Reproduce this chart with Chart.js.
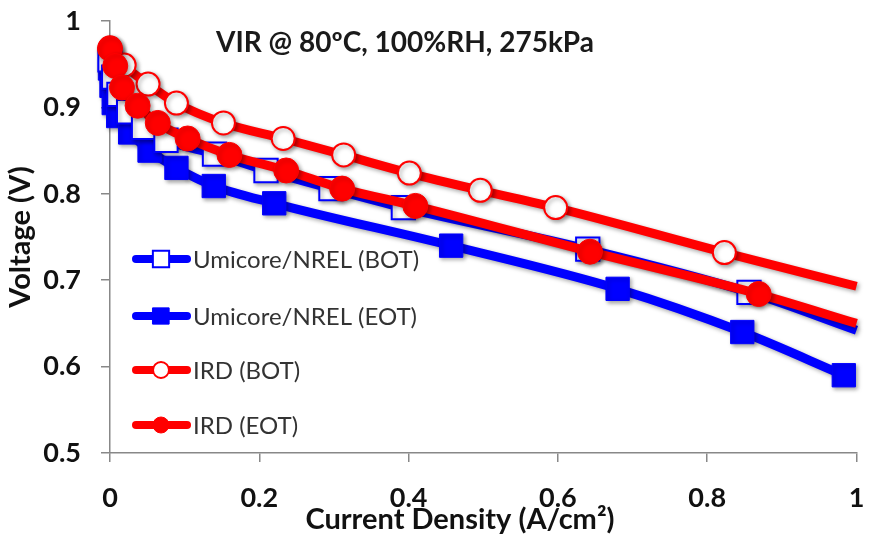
<!DOCTYPE html>
<html>
<head>
<meta charset="utf-8">
<script src="https://cdn.jsdelivr.net/npm/chart.js@4.4.1/dist/chart.umd.min.js"></script>
<style>
  html, body { margin: 0; padding: 0; background: #fff; }
  #wrap { width: 875px; height: 541px; }
</style>
</head>
<body>
<div id="wrap"><canvas id="vir"></canvas></div>
<script>
// data (x = current density A/cm2, y = voltage V)
const seriesNames = ["Umicore/NREL (BOT)", "Umicore/NREL (EOT)", "IRD (BOT)", "IRD (EOT)"];
const umicoreBotX = [0, 0.005, 0.012, 0.025, 0.045, 0.075, 0.14, 0.209, 0.296, 0.393, 0.64, 0.856, 1];
const umicoreBotY = [0.955, 0.935, 0.915, 0.895, 0.877, 0.862, 0.846, 0.827, 0.806, 0.784, 0.736, 0.686, 0.642];
const umicoreEotX = [0, 0.002, 0.005, 0.011, 0.027, 0.053, 0.089, 0.139, 0.22, 0.457, 0.68, 0.847, 0.983];
const umicoreEotY = [0.945, 0.925, 0.905, 0.89, 0.871, 0.85, 0.83, 0.809, 0.789, 0.74, 0.69, 0.64, 0.59];
const irdBotX = [0, 0.019, 0.051, 0.089, 0.152, 0.232, 0.313, 0.401, 0.496, 0.597, 0.823, 1];
const irdBotY = [0.969, 0.949, 0.927, 0.905, 0.882, 0.864, 0.845, 0.824, 0.804, 0.784, 0.732, 0.693];
const irdEotX = [0, 0.007, 0.016, 0.037, 0.064, 0.104, 0.16, 0.236, 0.311, 0.409, 0.643, 0.869, 1];
const irdEotY = [0.968, 0.948, 0.923, 0.902, 0.882, 0.864, 0.845, 0.827, 0.806, 0.786, 0.733, 0.684, 0.65];
const xTicks = [0, 0.2, 0.4, 0.6, 0.8, 1];
const yTicks = [0.5, 0.6, 0.7, 0.8, 0.9, 1];
const chartTitle = "VIR @ 80ºC, 100%RH, 275kPa";
const xTitle = "Current Density (A/cm²)";

const BLUE = "#0000ff";
const RED = "#ff0000";
const FONT = "Lato, 'Open Sans', sans-serif";

function pts(xs, ys) {
  return xs.map((x, i) => ({ x: x, y: ys[i] }));
}

// no marker on the curve end that runs out to x = 1
function markerSize(r) {
  return (c) => (c.raw && c.raw.x >= 1 ? 0 : r);
}

const styles = [
  { color: BLUE, pointStyle: "rect", radius: 16.5, fill: "#fff", bw: 2, legendR: 11.5, order: 2 },
  { color: BLUE, pointStyle: "rect", radius: 16.5, fill: BLUE, bw: 1, legendR: 11.5, order: 3 },
  { color: RED, pointStyle: "circle", radius: 11.5, fill: "#fff", bw: 2, legendR: 8, order: 1 },
  { color: RED, pointStyle: "circle", radius: 12.5, fill: RED, bw: 1, legendR: 8, order: 0 },
];

const allData = [
  pts(umicoreBotX, umicoreBotY),
  pts(umicoreEotX, umicoreEotY),
  pts(irdBotX, irdBotY),
  pts(irdEotX, irdEotY),
];

const datasets = allData.map((d, i) => ({
  label: seriesNames[i],
  data: d,
  order: styles[i].order,
  borderColor: styles[i].color,
  backgroundColor: styles[i].fill,
  borderWidth: 9,
  cubicInterpolationMode: "monotone",
  pointStyle: styles[i].pointStyle,
  pointRadius: markerSize(styles[i].radius),
  pointBorderWidth: styles[i].bw,
  pointBorderColor: styles[i].color,
  pointBackgroundColor: styles[i].fill,
  pointHoverRadius: markerSize(styles[i].radius),
  clip: false,
}));

// soft drop shadow like the office chart
const shadowPlugin = {
  id: "shadow",
  beforeDatasetsDraw(chart) {
    const ctx = chart.ctx;
    ctx.save();
    ctx.shadowColor = "rgba(0,0,0,0.35)";
    ctx.shadowBlur = 4;
    ctx.shadowOffsetX = 2;
    ctx.shadowOffsetY = 2;
  },
  afterDatasetsDraw(chart) {
    chart.ctx.restore();
  },
};

// title, legend and x title placed like the original
const legendRows = [259, 316, 370, 425];
const insidePlugin = {
  id: "inside",
  afterDraw(chart) {
    const ctx = chart.ctx;
    ctx.save();
    ctx.fillStyle = "#1a1a1a";
    ctx.font = "bold 28px " + FONT;
    ctx.textAlign = "center";
    ctx.textBaseline = "middle";
    ctx.fillText(chartTitle, 405, 43);

    ctx.fillStyle = "#111";
    ctx.font = "bold 29px " + FONT;
    ctx.fillText(xTitle, 460, 520);

    seriesNames.forEach((name, i) => {
      const s = styles[i];
      const y = legendRows[i];
      ctx.strokeStyle = s.color;
      ctx.lineWidth = 8;
      ctx.lineCap = "round";
      ctx.beginPath();
      ctx.moveTo(136, y);
      ctx.lineTo(187, y);
      ctx.stroke();
      ctx.fillStyle = s.fill;
      ctx.strokeStyle = s.color;
      ctx.lineWidth = s.bw;
      Chart.helpers.drawPoint(ctx, { pointStyle: s.pointStyle, radius: s.legendR, borderWidth: s.bw }, 161, y);
      ctx.fillStyle = "#333";
      ctx.font = "24px " + FONT;
      ctx.textAlign = "left";
      ctx.fillText(name, 193, y + 1);
    });
    ctx.restore();
  },
};

// keep tick-label overflow from shrinking the plot area
function noOverflow(axis) {
  axis.paddingTop = 0;
  axis.paddingBottom = 0;
  axis.paddingLeft = 0;
  axis.paddingRight = 0;
}

new Chart(document.getElementById("vir"), {
  type: "line",
  data: { datasets: datasets },
  plugins: [shadowPlugin, insidePlugin],
  options: {
    responsive: true,
    maintainAspectRatio: false,
    animation: false,
    layout: { padding: { top: 21, right: 12, left: 0, bottom: 0 } },
    plugins: {
      legend: { display: false },
      tooltip: { enabled: false },
    },
    scales: {
      x: {
        type: "linear",
        min: 0,
        max: 1,
        afterBuildTicks: (axis) => { axis.ticks = xTicks.map((v) => ({ value: v })); },
        afterFit: (axis) => { axis.height = 88; noOverflow(axis); },
        border: { display: true, color: "#888", width: 1.5 },
        grid: { drawOnChartArea: false, drawTicks: true, tickLength: 9, color: "#888", lineWidth: 1.5 },
        ticks: {
          color: "#111",
          font: { family: FONT, size: 27, weight: "bold" },
          padding: 20,
          maxRotation: 0,
          callback: (v) => String(v),
        },
      },
      y: {
        type: "linear",
        min: 0.5,
        max: 1,
        afterBuildTicks: (axis) => { axis.ticks = yTicks.map((v) => ({ value: v })); },
        afterFit: (axis) => { axis.width = 110; noOverflow(axis); },
        border: { display: true, color: "#888", width: 1.5 },
        grid: { drawOnChartArea: false, drawTicks: true, tickLength: 9, color: "#888", lineWidth: 1.5 },
        ticks: {
          color: "#111",
          font: { family: FONT, size: 27, weight: "bold" },
          padding: 20,
          callback: (v) => String(v),
        },
        title: {
          display: true,
          text: "Voltage (V)",
          color: "#111",
          font: { family: FONT, size: 29, weight: "bold" },
          padding: { top: 3, bottom: 0 },
        },
      },
    },
  },
});
</script>
</body>
</html>
